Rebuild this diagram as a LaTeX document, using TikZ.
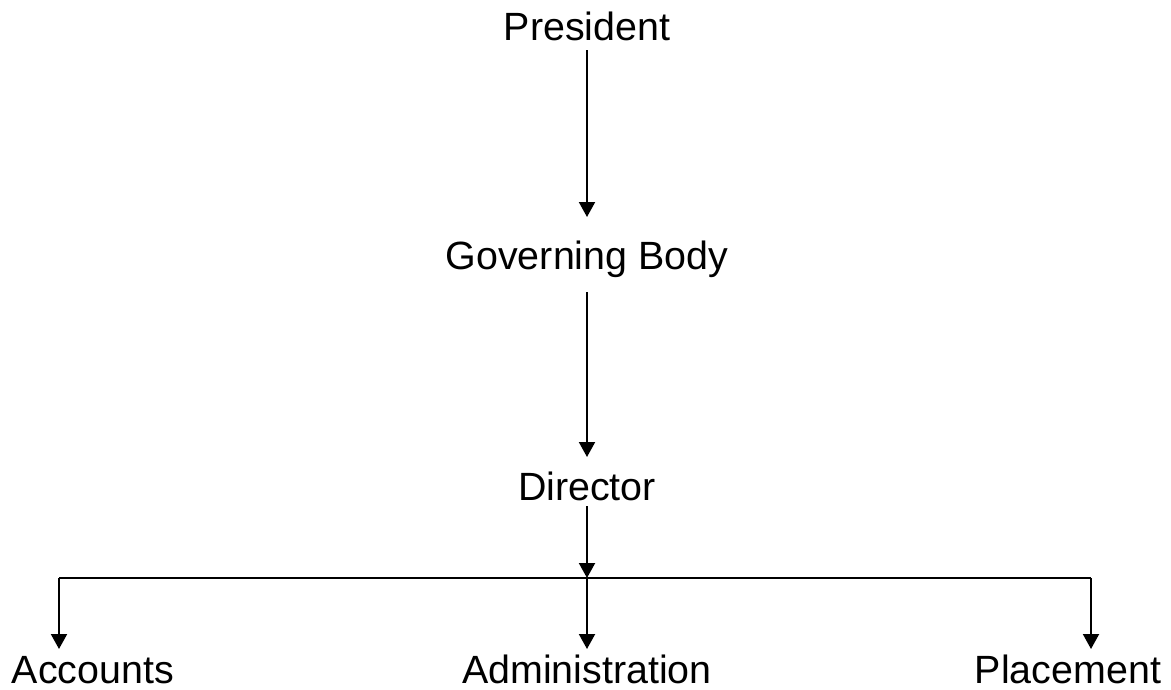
\documentclass[tikz,border=0pt]{standalone}
\usepackage{fontspec}
\setmainfont{Liberation Sans}
\usetikzlibrary{arrows.meta}
\begin{document}
\begin{tikzpicture}[x=1pt,y=-1pt,
  lbl/.style={inner sep=0pt, outer sep=0pt, text height=29pt, text depth=9pt,
    font=\fontsize{39.4}{47}\selectfont, anchor=base},
  arr/.style={line width=2pt, -{Triangle[width=16pt,length=15pt]}},
  bar/.style={line width=1.6pt}]
\useasboundingbox[fill=white] (0,0) rectangle (1171,689);
\node[lbl] (pres) at (587,40) {President};
\node[lbl] (gov) at (587,269) {Governing Body};
\node[lbl] (dir) at (587,500) {Director};
\node[lbl] (acc) at (93,683) {Accounts};
\node[lbl] (adm) at (587,683) {Administration};
\node[lbl] (plc) at (1068,683) {Placement};
\coordinate (hub) at (587,578);
\coordinate (hl) at (59,578);
\coordinate (hr) at (1091,578);
\draw[arr, shorten <=1pt, shorten >=23pt] (pres.south) -- (gov.north);
\draw[arr, shorten <=14pt, shorten >=14pt] (gov.south) -- (dir.north);
\draw[arr, shorten <=-3pt] (dir.south) -- (hub);
\draw[bar] (hl) -- (hr);
\draw[arr, shorten >=5pt] (hl) -- (hl |- acc.north);
\draw[arr, shorten >=5pt] (hub) -- (adm.north);
\draw[arr, shorten >=5pt] (hr) -- (hr |- plc.north);
\end{tikzpicture}
\end{document}
